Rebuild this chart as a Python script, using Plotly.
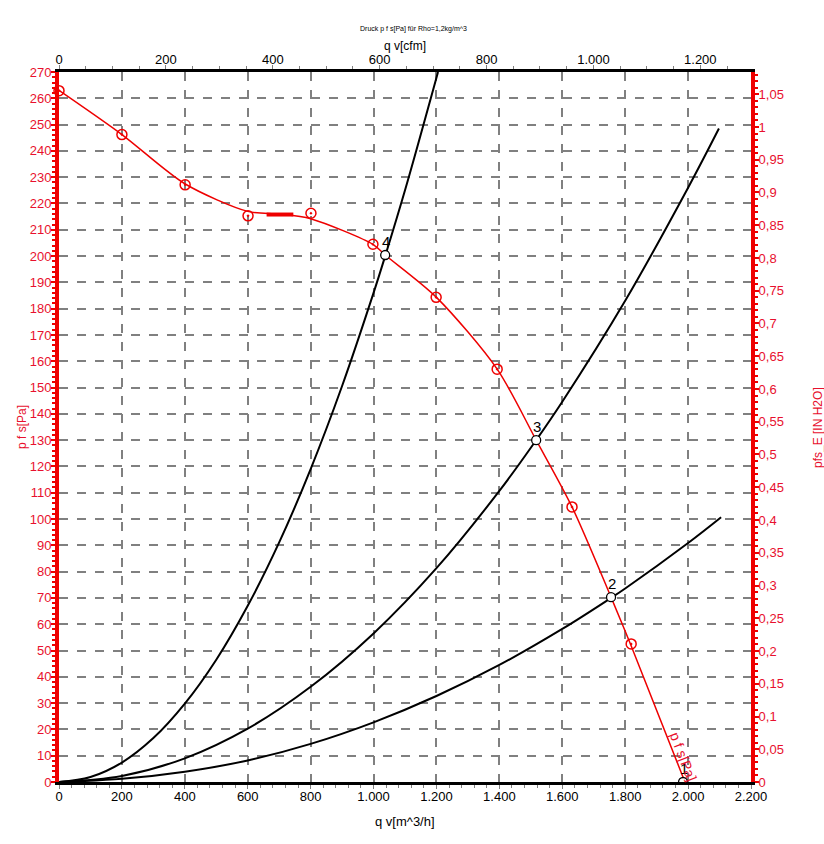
import plotly.graph_objects as go

# ---- data ----
# fan curve p_fs [Pa] vs q_v [m^3/h]
fan_line_x = [0, 200, 400, 600, 700, 800, 1000, 1037, 1200, 1393, 1517, 1631, 1755, 1817, 1990]
fan_line_y = [263, 246.2, 227.5, 217, 216, 214.2, 204.3, 200.4, 184.3, 157, 130, 104.6, 70.3, 52.4, 0]
# measured points (circle markers)
meas_x = [0, 200, 401, 601, 801, 998, 1199, 1393, 1631, 1819]
meas_y = [262.9, 246.2, 227.1, 215.3, 216.3, 204.5, 184.3, 157, 104.6, 52.5]
# short thick segment
seg_x = [660, 745]
seg_y = [215.8, 215.8]
# system curves
sys4_x = [0, 100, 200, 300, 400, 500, 600, 700, 800, 900, 1000, 1037, 1100, 1205]
sys4_y = [0, 1.9, 7.4, 16.7, 29.8, 46.5, 67, 91.1, 119, 150.6, 186, 200, 225, 270]
sys3_x = [0, 200, 400, 600, 800, 1000, 1200, 1400, 1517, 1600, 1800, 2000, 2098]
sys3_y = [0, 2.3, 9.0, 20.3, 36.2, 56.5, 81.3, 110.7, 130, 144.6, 183, 226, 248.5]
sys2_x = [0, 200, 400, 600, 800, 1000, 1200, 1400, 1600, 1755, 1800, 2000, 2105]
sys2_y = [0, 1.2, 3.9, 8.2, 14.5, 22.7, 32.7, 44.5, 58.2, 70, 73.6, 90.9, 100.7]
# operating points
op_x = [1984, 1755, 1517, 1037]
op_y = [0, 70.3, 130, 200.4]
op_labels = ["1", "2", "3", "4"]

CFM = 1.69901      # m^3/h per cfm
INH2O = 249.089    # Pa per inch H2O
X_MAX = 2200
Y_MAX = 270

RED = "#ee0000"
TXT_RED = "#e8102e"
GRID = "#808080"
FONT = "Liberation Sans, Arial, sans-serif"

fig = go.Figure()

for xs, ys in [(sys4_x, sys4_y), (sys3_x, sys3_y), (sys2_x, sys2_y)]:
    fig.add_trace(go.Scatter(x=xs, y=ys, mode="lines", line=dict(color="black", width=2, shape="spline"),
                             showlegend=False, hoverinfo="skip"))

fig.add_trace(go.Scatter(x=fan_line_x, y=fan_line_y, mode="lines",
                         line=dict(color=RED, width=1.5, shape="spline", smoothing=0.8),
                         showlegend=False))
fig.add_trace(go.Scatter(x=seg_x, y=seg_y, mode="lines", line=dict(color=RED, width=4),
                         showlegend=False))
fig.add_trace(go.Scatter(x=meas_x, y=meas_y, mode="markers",
                         marker=dict(symbol="circle-open-dot", size=10, color=RED, line=dict(width=1.5, color=RED)),
                         showlegend=False, cliponaxis=False))
fig.add_trace(go.Scatter(x=op_x, y=op_y, mode="markers",
                         marker=dict(symbol="circle", size=9, color="white", line=dict(width=1.3, color="black")),
                         showlegend=False, cliponaxis=True))

# dummy traces for secondary axes
fig.add_trace(go.Scatter(x=[0, X_MAX / CFM], y=[None, None], xaxis="x2", yaxis="y", showlegend=False))
fig.add_trace(go.Scatter(x=[None, None], y=[0, Y_MAX / INH2O], xaxis="x", yaxis="y2", showlegend=False))

for x, y, t in zip(op_x, op_y, op_labels):
    fig.add_annotation(x=x, y=y, text=t, showarrow=False, xanchor="center", yanchor="bottom",
                       xshift=1, yshift=3, font=dict(size=15, color="black", family=FONT))

fig.add_annotation(x=1984, y=9.9, text="p f s[Pa]", showarrow=False, textangle=69,
                   font=dict(size=14, color=TXT_RED, family=FONT))

# titles as paper annotations
def paper_note(x, y, text, size=13, color="black", angle=0):
    fig.add_annotation(x=x, y=y, xref="paper", yref="paper", text=text, showarrow=False,
                       xanchor="center", yanchor="middle", textangle=angle,
                       font=dict(size=size, color=color, family=FONT))

paper_note(0.5116, 1.0606, "Druck p f s[Pa] für Rho=1,2kg/m^3", size=7)
paper_note(0.5, 1.0366, "q v[cfm]", size=12)
paper_note(0.5, -0.0563, "q v[m^3/h]", size=13)
paper_note(-0.0535, 0.5, "p f s[Pa]", size=12, color=TXT_RED, angle=-90)
paper_note(1.0968, 0.5, "pfs_E [IN H2O]", size=12, color=TXT_RED, angle=-90)

fig.update_layout(
    width=824, height=844,
    margin=dict(l=59, r=73, t=72, b=62),
    paper_bgcolor="white", plot_bgcolor="white",
    separators=",.",
    font=dict(family=FONT, size=13, color="black"),
    xaxis=dict(range=[0, X_MAX], dtick=200, tick0=0, separatethousands=True, automargin=False,
               showgrid=True, gridcolor=GRID, griddash="dash", gridwidth=1.5,
               showline=True, linecolor="black", linewidth=3, zeroline=False,
               ticks="outside", ticklen=4, tickcolor="gray", ticklabelstandoff=-4,
               minor=dict(dtick=40, ticks="outside", ticklen=3, tickcolor="gray", showgrid=False),
               tickfont=dict(size=13, color="black")),
    xaxis2=dict(range=[0, X_MAX / CFM], dtick=200, tick0=0, separatethousands=True, overlaying="x", side="top",
                automargin=False, ticklabelstandoff=-4,
                showgrid=False, showline=True, linecolor="black", linewidth=3, zeroline=False,
                ticks="outside", ticklen=4, tickcolor="gray",
                minor=dict(dtick=50, ticks="outside", ticklen=3, tickcolor="gray"),
                tickfont=dict(size=13, color="black")),
    yaxis=dict(range=[0, Y_MAX], dtick=10, tick0=0, automargin=False, ticklabelstandoff=-3,
               showgrid=True, gridcolor=GRID, griddash="dash", gridwidth=1.5,
               showline=True, linecolor=RED, linewidth=4, zeroline=False,
               ticks="outside", ticklen=4, tickcolor=RED, tickwidth=2,
               minor=dict(dtick=2, ticks="outside", ticklen=3, tickcolor=RED, tickwidth=2, showgrid=False),
               tickfont=dict(size=13, color=TXT_RED)),
    yaxis2=dict(range=[0, Y_MAX / INH2O], dtick=0.05, tick0=0, overlaying="y", side="right", automargin=False,
                ticklabelstandoff=-3,
                showgrid=False, showline=True, linecolor=RED, linewidth=4, zeroline=False,
                ticks="outside", ticklen=4, tickcolor=RED, tickwidth=2,
                minor=dict(dtick=0.01, ticks="outside", ticklen=3, tickcolor=RED, tickwidth=2),
                tickfont=dict(size=13, color=TXT_RED)),
)

fig.write_html("out.html", config={"displayModeBar": False},
               post_script="document.body.style.margin='0px';document.body.style.overflow='hidden';")
